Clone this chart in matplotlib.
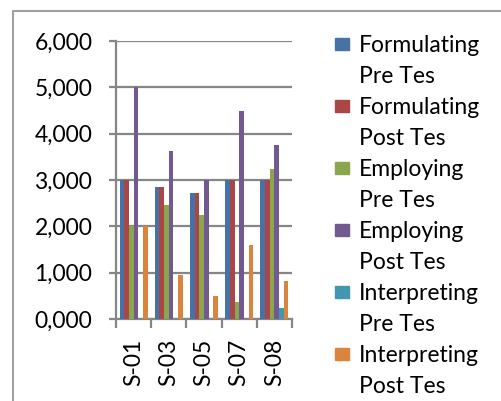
import matplotlib.pyplot as plt
from matplotlib.patches import Rectangle
from matplotlib.lines import Line2D
import numpy as np

# data
students = ['S-01', 'S-03', 'S-05', 'S-07', 'S-08']
series_names = ['Formulating\nPre Tes', 'Formulating\nPost Tes', 'Employing\nPre Tes',
                'Employing\nPost Tes', 'Interpreting\nPre Tes', 'Interpreting\nPost Tes']
formulating_pre = [3000, 2850, 2720, 3000, 3000]
formulating_post = [3000, 2850, 2720, 3000, 3000]
employing_pre = [2000, 2460, 2250, 360, 3240]
employing_post = [5000, 3620, 3000, 4480, 3750]
interpreting_pre = [0, 0, 0, 0, 230]
interpreting_post = [2000, 960, 490, 1600, 830]
yticks = [0, 1000, 2000, 3000, 4000, 5000, 6000]
ytick_labels = ['0,000', '1,000', '2,000', '3,000', '4,000', '5,000', '6,000']

colors = ['#4672A8', '#AA4643', '#8AA64F', '#725990', '#4197AF', '#DB843D']
grey = '#868686'

plt.rcParams['font.family'] = ['Lato', 'DejaVu Sans']
fs = 16.5

fig = plt.figure(figsize=(5.02, 4.01), dpi=100)
ax = fig.add_axes([116/502, 1-319/401, (292-116)/502, (319-41)/401])

all_series = [formulating_pre, formulating_post, employing_pre,
              employing_post, interpreting_pre, interpreting_post]
x = np.arange(len(students))
w = 0.8 / len(all_series)
for i, vals in enumerate(all_series):
    ax.bar(x - 0.4 + w*(i+0.5), vals, width=w, color=colors[i], linewidth=0, zorder=3)

ax.set_xlim(-0.5, len(students)-0.5)
ax.set_ylim(0, 6000)
ax.set_yticks(yticks)
ax.set_yticklabels(ytick_labels, fontsize=fs)
ax.yaxis.grid(True, color=grey, linewidth=1.6, zorder=0)
ax.tick_params(axis='y', direction='out', length=5, width=1.6, color=grey, pad=12)

ax.set_xticks(x)
ax.set_xticklabels(students, rotation=90, fontsize=fs)
ax.set_xticks(np.arange(-0.5, len(students), 1), minor=True)
ax.tick_params(axis='x', which='major', length=0, pad=14)
ax.tick_params(axis='x', which='minor', direction='out', length=6.5, width=1.6, color=grey)

for s in ['top', 'right']:
    ax.spines[s].set_visible(False)
for s in ['left', 'bottom']:
    ax.spines[s].set_color(grey)
    ax.spines[s].set_linewidth(1.6)

# legend drawn by hand so the square sits on the first line
for i, name in enumerate(series_names):
    base = 52 + 62*i
    fig.patches.append(Rectangle((335/502, 1-(base-2)/401), 14/502, 12/401,
                                 transform=fig.transFigure, color=colors[i]))
    line1, line2 = name.split('\n')
    fig.text(359/502, 1-base/401, line1, fontsize=fs, va='baseline')
    fig.text(359/502, 1-(base+31)/401, line2, fontsize=fs, va='baseline')

# chart frame
fig.add_artist(Line2D([13/502, 13/502, 1], [0, 1-11/401, 1-11/401],
                      transform=fig.transFigure, color='#A0A0A0', linewidth=1.5))

fig.savefig('out.png', dpi=100)
